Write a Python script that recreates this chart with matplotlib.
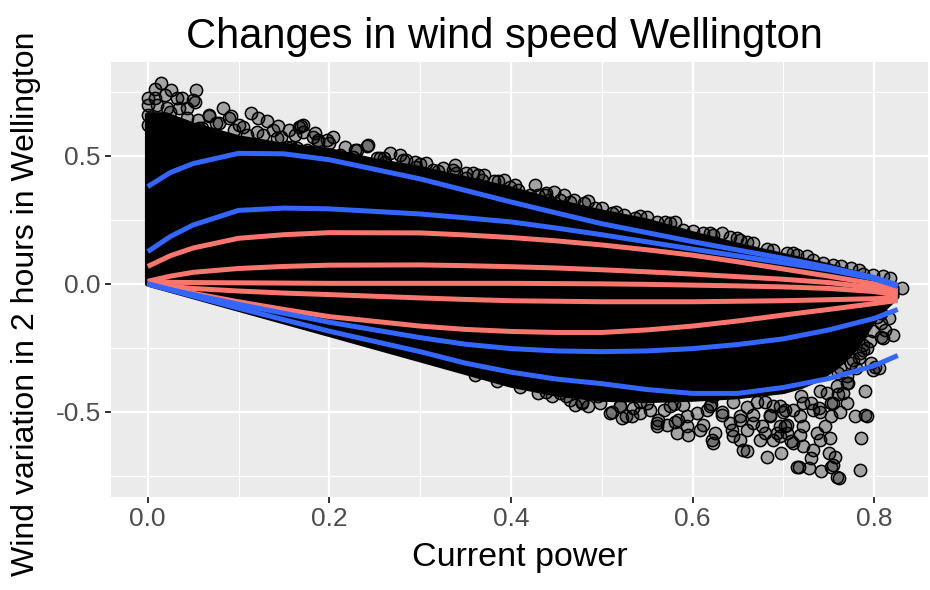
import numpy as np
import matplotlib
matplotlib.use("Agg")
import matplotlib.pyplot as plt

plt.rcParams["font.family"] = ["Liberation Sans", "DejaVu Sans"]

# quantile curves
q_x = [0, 0.025, 0.05, 0.1, 0.15, 0.2, 0.3, 0.35, 0.4, 0.45, 0.5, 0.55, 0.6, 0.65, 0.7, 0.75, 0.8, 0.826]
blue_top = [0.38, 0.435, 0.47, 0.51, 0.508, 0.485, 0.41, 0.365, 0.32, 0.277, 0.235, 0.2, 0.165, 0.132, 0.10, 0.065, 0.025, -0.005]
blue_upper = [0.126, 0.185, 0.23, 0.287, 0.296, 0.293, 0.273, 0.258, 0.242, 0.218, 0.192, 0.164, 0.136, 0.109, 0.082, 0.055, 0.02, -0.01]
red_1 = [0.068, 0.11, 0.14, 0.178, 0.192, 0.20, 0.199, 0.191, 0.181, 0.168, 0.152, 0.133, 0.112, 0.086, 0.058, 0.03, 0.0, -0.025]
red_2 = [0.01, 0.03, 0.045, 0.06, 0.068, 0.073, 0.074, 0.071, 0.067, 0.062, 0.055, 0.047, 0.038, 0.028, 0.018, 0.005, -0.015, -0.035]
red_3 = [0.008, 0.006, 0.005, 0.004, 0.003, 0.002, 0.002, 0.002, 0.002, 0.001, 0.0, -0.002, -0.005, -0.008, -0.012, -0.018, -0.03, -0.045]
red_4 = [0.005, -0.01, -0.018, -0.028, -0.036, -0.042, -0.055, -0.061, -0.066, -0.068, -0.07, -0.07, -0.07, -0.068, -0.066, -0.062, -0.058, -0.055]
red_5 = [0.0, -0.02, -0.037, -0.07, -0.1, -0.128, -0.165, -0.178, -0.186, -0.19, -0.19, -0.18, -0.165, -0.145, -0.122, -0.1, -0.077, -0.065]
blue_lower = [0.0, -0.022, -0.042, -0.08, -0.115, -0.15, -0.21, -0.236, -0.253, -0.262, -0.265, -0.262, -0.253, -0.237, -0.215, -0.18, -0.135, -0.10]
blue_bottom = [0.0, -0.024, -0.048, -0.095, -0.14, -0.185, -0.265, -0.31, -0.345, -0.372, -0.39, -0.413, -0.428, -0.428, -0.405, -0.37, -0.32, -0.28]

# dense part of the point cloud (outline)
cloud_top_x = [0, 0.02, 0.05, 0.1, 0.15, 0.2, 0.25, 0.3, 0.35, 0.4, 0.45, 0.5, 0.55, 0.6, 0.65, 0.7, 0.75, 0.8, 0.825]
cloud_top_y = [0.66, 0.66, 0.62, 0.57, 0.54, 0.52, 0.48, 0.45, 0.41, 0.37, 0.32, 0.28, 0.245, 0.195, 0.15, 0.11, 0.07, 0.02, -0.015]
cloud_bot_x = [0.825, 0.81, 0.8, 0.78, 0.76, 0.74, 0.72, 0.7, 0.65, 0.6, 0.55, 0.5, 0.45, 0.4, 0.2, 0.0]
cloud_bot_y = [-0.05, -0.1, -0.14, -0.25, -0.32, -0.37, -0.4, -0.42, -0.44, -0.45, -0.455, -0.45, -0.43, -0.395, -0.197, 0.0]

# single points around the dense part
top_pts_x = [0.015, 0.008, 0.026, 0.053, 0.0, 0.019, 0.038, 0.050, 0.043, 0.021, 0.083, 0.068, 0.114, 0.122,
             0.131, 0.144, 0.156, 0.169, 0.090, 0.055, 0.101, 0.127, 0.158, 0.109, 0.167, 0.184, 0.204, 0.217,
             0.230, 0.241, 0.267, 0.285, 0.307, 0.325, 0.338, 0.358, 0.381, 0.392, 0.404, 0.188, 0.142, 0.164,
             0.123, 0.035, 0.171, 0.243, 0.228, 0.351, 0.364, 0.426, 0.421, 0.439, 0.447, 0.459, 0.469, 0.485,
             0.500, 0.516, 0.542, 0.550, 0.570, 0.581, 0.601, 0.623, 0.633, 0.649, 0.660, 0.682, 0.704, 0.715,
             0.733, 0.755, 0.775, 0.788, 0.818, 0.831, 0.819,
             0.0, 0.0, 0.0, 0.005, 0.01, 0.06, 0.075, 0.095, 0.2, 0.26, 0.3, 0.32,
             0.008, 0.032, 0.052, 0.024, 0.043, 0.068, 0.079, 0.092, 0.105, 0.120, 0.138, 0.147, 0.162, 0.171,
             0.057, 0.039, 0.013, 0.182, 0.197, 0.153, 0.175, 0.226, 0.256, 0.278, 0.296, 0.314, 0.336, 0.351,
             0.370, 0.399, 0.188, 0.212, 0.252, 0.261, 0.281, 0.294, 0.340, 0.368, 0.386, 0.408, 0.430, 0.441,
             0.437, 0.454, 0.465, 0.480, 0.493, 0.511, 0.524, 0.537, 0.561, 0.575, 0.590, 0.612, 0.619, 0.641,
             0.652, 0.667, 0.689, 0.711, 0.726, 0.744, 0.763, 0.783, 0.799, 0.810]
top_pts_y = [0.784, 0.762, 0.758, 0.758, 0.728, 0.738, 0.728, 0.719, 0.689, 0.686, 0.686, 0.660, 0.667, 0.647,
             0.637, 0.618, 0.602, 0.617, 0.647, 0.641, 0.621, 0.582, 0.536, 0.582, 0.614, 0.589, 0.575, 0.536,
             0.523, 0.539, 0.510, 0.484, 0.471, 0.452, 0.465, 0.432, 0.400, 0.406, 0.387, 0.556, 0.569, 0.530,
             0.523, 0.687, 0.621, 0.543, 0.523, 0.432, 0.426, 0.387, 0.348, 0.354, 0.357, 0.348, 0.328, 0.325,
             0.296, 0.282, 0.266, 0.260, 0.243, 0.243, 0.208, 0.191, 0.200, 0.178, 0.165, 0.135, 0.120, 0.113,
             0.094, 0.074, 0.061, 0.039, 0.022, -0.017, -0.017,
             0.70, 0.66, 0.62, 0.64, 0.70, 0.61, 0.63, 0.60, 0.55, 0.49, 0.47, 0.44,
             0.725, 0.725, 0.712, 0.673, 0.647, 0.654, 0.628, 0.654, 0.614, 0.595, 0.602, 0.575, 0.582, 0.595,
             0.608, 0.582, 0.634, 0.575, 0.562, 0.536, 0.523, 0.497, 0.491, 0.504, 0.458, 0.445, 0.445, 0.413,
             0.426, 0.380, 0.562, 0.504, 0.491, 0.478, 0.484, 0.478, 0.432, 0.406, 0.400, 0.367, 0.348, 0.328,
             0.348, 0.328, 0.321, 0.315, 0.296, 0.276, 0.270, 0.257, 0.243, 0.237, 0.211, 0.198, 0.198, 0.182,
             0.172, 0.159, 0.133, 0.120, 0.107, 0.081, 0.068, 0.055, 0.035, 0.029]

low_pts_x = [0.478, 0.509, 0.527, 0.550, 0.561, 0.583, 0.595, 0.621, 0.623, 0.645, 0.656, 0.652, 0.682, 0.698,
             0.704, 0.717, 0.730, 0.742, 0.755, 0.761, 0.751, 0.785, 0.786, 0.792, 0.779, 0.799, 0.821, 0.808,
             0.803, 0.788, 0.770, 0.755, 0.733, 0.718, 0.711, 0.696, 0.674, 0.667, 0.641, 0.608, 0.594, 0.581,
             0.569, 0.542, 0.520, 0.498, 0.461, 0.616, 0.471, 0.485, 0.522, 0.533, 0.561, 0.632, 0.652, 0.660,
             0.689, 0.702, 0.810, 0.799, 0.808, 0.801, 0.792, 0.785, 0.790, 0.759, 0.753, 0.728, 0.715, 0.762,
             0.704, 0.722, 0.740, 0.730, 0.753, 0.771, 0.777,
             0.62, 0.68, 0.72, 0.74, 0.76, 0.78, 0.66, 0.58, 0.70, 0.74, 0.76, 0.79,
             0.439, 0.454, 0.465, 0.478, 0.496, 0.511, 0.520, 0.535, 0.542, 0.553, 0.562, 0.572, 0.584, 0.594,
             0.605, 0.612, 0.619, 0.625, 0.632, 0.643, 0.652, 0.660, 0.667, 0.676, 0.685, 0.696, 0.702, 0.689,
             0.671, 0.645, 0.623, 0.590, 0.575,
             0.796, 0.788, 0.783, 0.774, 0.762, 0.805, 0.797, 0.770, 0.759, 0.748, 0.766, 0.770, 0.753, 0.739,
             0.722, 0.711, 0.696, 0.685, 0.680, 0.693, 0.709, 0.722, 0.733, 0.750, 0.757, 0.746, 0.737, 0.718,
             0.812, 0.816, 0.808,
             0.36, 0.385, 0.41, 0.43, 0.445]
low_pts_y = [-0.466, -0.505, -0.518, -0.466, -0.544, -0.583, -0.590, -0.609, -0.622, -0.596, -0.648, -0.518, -0.675, -0.661,
             -0.583, -0.715, -0.681, -0.733, -0.707, -0.759, -0.603, -0.727, -0.603, -0.518, -0.518, -0.336, -0.199, -0.206,
             -0.128, -0.258, -0.388, -0.466, -0.492, -0.518, -0.622, -0.557, -0.609, -0.544, -0.544, -0.570, -0.518, -0.538,
             -0.492, -0.505, -0.479, -0.466, -0.440, -0.492, -0.473, -0.479, -0.525, -0.518, -0.557, -0.512, -0.531, -0.655,
             -0.609, -0.492, -0.212, -0.186, -0.154, -0.323, -0.251, -0.271, -0.512, -0.753, -0.714, -0.720, -0.714, -0.499,
             -0.551, -0.557, -0.609, -0.466, -0.518, -0.388, -0.297,
             -0.47, -0.46, -0.44, -0.42, -0.35, -0.33, -0.48, -0.47, -0.50, -0.50, -0.43, -0.42,
             -0.421, -0.427, -0.453, -0.460, -0.440, -0.499, -0.479, -0.486, -0.460, -0.492, -0.531, -0.551, -0.531, -0.557,
             -0.505, -0.551, -0.479, -0.583, -0.499, -0.570, -0.609, -0.570, -0.512, -0.557, -0.512, -0.596, -0.557, -0.479,
             -0.460, -0.460, -0.440, -0.473, -0.479,
             -0.225, -0.238, -0.290, -0.310, -0.329, -0.329, -0.310, -0.362, -0.401, -0.427, -0.427, -0.466, -0.466, -0.486,
             -0.466, -0.492, -0.479, -0.518, -0.583, -0.583, -0.616, -0.635, -0.648, -0.661, -0.675, -0.557, -0.583, -0.590,
             -0.180, -0.134, -0.114,
             -0.355, -0.38, -0.405, -0.425, -0.44]

fig, ax = plt.subplots(figsize=(9.3, 5.9), dpi=100)
fig.subplots_adjust(left=0.119, right=0.998, top=0.895, bottom=0.158)

ax.set_facecolor("#EBEBEB")
ax.set_xticks([0, 0.2, 0.4, 0.6, 0.8])
ax.set_xticks([0.1, 0.3, 0.5, 0.7], minor=True)
ax.set_yticks([-0.5, 0, 0.5])
ax.set_yticks([-0.75, -0.25, 0.25, 0.75], minor=True)
ax.set_xticklabels(["0.0", "0.2", "0.4", "0.6", "0.8"])
ax.set_yticklabels(["-0.5", "0.0", "0.5"])
ax.grid(True, which="major", color="white", linewidth=1.6)
ax.grid(True, which="minor", color="white", linewidth=0.8)
ax.set_axisbelow(True)
for s in ax.spines.values():
    s.set_visible(False)
ax.tick_params(which="major", length=4, width=1.4, color="#333333", labelcolor="#4D4D4D", labelsize=19, pad=3)
ax.tick_params(which="minor", length=0)

cloud_x = cloud_top_x + cloud_bot_x
cloud_y = cloud_top_y + cloud_bot_y
ax.fill(cloud_x, cloud_y, facecolor="black", edgecolor="black", linewidth=4, joinstyle="round")

ax.scatter(top_pts_x + low_pts_x, top_pts_y + low_pts_y, s=78, facecolor=(0, 0, 0, 0.3),
           edgecolor="black", linewidths=1.1, zorder=3)

for ys in [red_1, red_2, red_3, red_4, red_5]:
    ax.plot(q_x, ys, color="#F8766D", linewidth=3.6, solid_capstyle="butt", zorder=4)
for ys in [blue_top, blue_upper, blue_lower, blue_bottom]:
    ax.plot(q_x, ys, color="#3366FF", linewidth=3.6, solid_capstyle="butt", zorder=5)

ax.set_xlim(-0.0408, 0.8595)
ax.set_ylim(-0.832, 0.867)

fig.text(504 / 930, 1 - 48 / 590, "Changes in wind speed Wellington", fontsize=30, ha="center", va="baseline")
ax.set_xlabel("Current power", fontsize=24.5, labelpad=8)
ax.set_ylabel("Wind variation in 2 hours in Wellington", fontsize=23)
ax.yaxis.set_label_coords(-0.085, 0.445)

fig.savefig("out.png")
